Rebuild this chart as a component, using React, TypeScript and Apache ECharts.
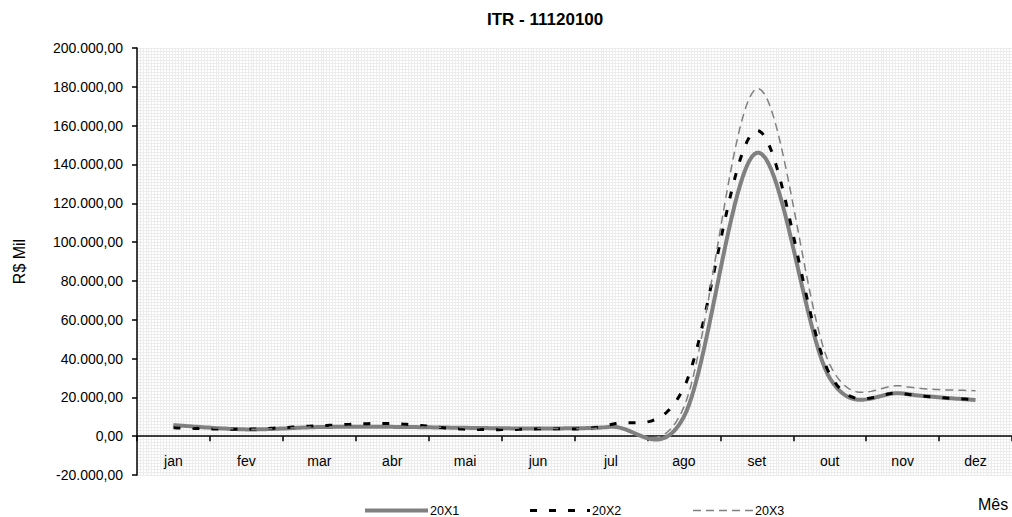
import React, { useEffect, useRef } from 'react';
import * as echarts from 'echarts';

const months = ['jan', 'fev', 'mar', 'abr', 'mai', 'jun', 'jul', 'ago', 'set', 'out', 'nov', 'dez'];
const seriesNames = ['20X1', '20X2', '20X3'];
const values20X1 = [5700, 3500, 4700, 4800, 4300, 4000, 4800, 10000, 146000, 30000, 22000, 18600];
const values20X2 = [4300, 3600, 5400, 6500, 3600, 3800, 6000, 25000, 157500, 32000, 22000, 18800];
const values20X3 = [5600, 3600, 4800, 4900, 4400, 4100, 4800, 15000, 179000, 37000, 25800, 23400];
const yMin = -20000;
const yMax = 200000;
const yStep = 20000;
const titleText = 'ITR - 11120100';
const yAxisName = 'R$ Mil';
const xAxisName = 'Mês';

const FONT = 'Arial, "Liberation Sans", sans-serif';

const GRID_TOP = 48;
const GRID_HEIGHT = 427;

function fmt(v: number): string {
  const neg = v < 0;
  const s = Math.abs(v).toFixed(2);
  const [i, d] = s.split('.');
  const ii = i.replace(/\B(?=(\d{3})+(?!\d))/g, '.');
  return (neg ? '-' : '') + ii + ',' + d;
}

// Excel-like smoothed line (Catmull-Rom style Bezier), mapped through the chart's scales
const makeRenderItem = (vals: number[], style: any) => (params: any, api: any) => {
  if (params.dataIndex !== 0) return null;
  const pts = vals.map((v, i) => api.coord([i, v]));
  const out: number[][] = [pts[0]];
  const n = pts.length;
  for (let i = 0; i < n - 1; i++) {
    const p0 = pts[Math.max(i - 1, 0)];
    const p1 = pts[i];
    const p2 = pts[i + 1];
    const p3 = pts[Math.min(i + 2, n - 1)];
    const c1 = [p1[0] + (p2[0] - p0[0]) / 6, p1[1] + (p2[1] - p0[1]) / 6];
    const c2 = [p2[0] - (p3[0] - p1[0]) / 6, p2[1] - (p3[1] - p1[1]) / 6];
    const steps = 30;
    for (let k = 1; k <= steps; k++) {
      const t = k / steps;
      const u = 1 - t;
      const a = u * u * u, b = 3 * u * u * t, c = 3 * u * t * t, d = t * t * t;
      out.push([
        a * p1[0] + b * c1[0] + c * c2[0] + d * p2[0],
        a * p1[1] + b * c1[1] + c * c2[1] + d * p2[1],
      ]);
    }
  }
  return {
    type: 'polyline',
    shape: { points: out },
    style: { fill: 'none', lineJoin: 'round', ...style },
    silent: true,
  };
};

const seriesStyles = [
  { stroke: '#808080', lineWidth: 4 },
  { stroke: '#000000', lineWidth: 3, lineDash: [7, 12] },
  { stroke: '#808080', lineWidth: 1.5, lineDash: [8, 5] },
];
const seriesValues = [values20X1, values20X2, values20X3];

export default function App() {
  const ref = useRef<HTMLDivElement>(null);
  useEffect(() => {
    if (!ref.current) return;
    const chart = echarts.init(ref.current, undefined, { renderer: 'svg' });
    const zeroOffset = -(GRID_HEIGHT * (0 - yMin)) / (yMax - yMin);
    const legendY = 510.5;
    const legendItems = [
      { x1: 365, x2: 428, tx: 430 },
      { x1: 530, x2: 590, tx: 592 },
      { x1: 693, x2: 753, tx: 755 },
    ];
    const legendGraphics: any[] = [];
    legendItems.forEach((it, i) => {
      legendGraphics.push({
        type: 'line',
        shape: { x1: it.x1, y1: legendY, x2: it.x2, y2: legendY },
        style: { ...seriesStyles[i] },
        silent: true,
      });
      legendGraphics.push({
        type: 'text',
        x: it.tx,
        y: legendY,
        style: {
          text: seriesNames[i],
          fontSize: 12.5,
          fontFamily: FONT,
          fill: '#000',
          verticalAlign: 'middle',
          align: 'left',
        },
        silent: true,
      });
    });
    legendGraphics.push({
      type: 'text',
      x: 978,
      y: 504,
      style: {
        text: xAxisName,
        fontSize: 16,
        fontFamily: FONT,
        fill: '#000',
        verticalAlign: 'middle',
        align: 'left',
      },
      silent: true,
    });

    chart.setOption({
      animation: false,
      backgroundColor: '#ffffff',
      title: {
        text: titleText,
        left: 487,
        top: 11,
        padding: 0,
        textStyle: { fontSize: 17, fontWeight: 'bold', fontFamily: FONT, color: '#000' },
      },
      grid: { left: 137, top: GRID_TOP, width: 877, height: GRID_HEIGHT, containLabel: false },
      xAxis: [
        {
          type: 'category',
          data: months,
          boundaryGap: true,
          position: 'bottom',
          offset: zeroOffset,
          axisLine: { show: true, onZero: false, lineStyle: { color: '#000', width: 1.5 } },
          axisTick: { show: true, interval: 0, length: 5, inside: false, lineStyle: { color: '#000', width: 1.5 } },
          axisLabel: { margin: 18, fontSize: 14, fontFamily: FONT, color: '#000', interval: 0 },
          splitLine: { show: false },
        },
        {
          type: 'value',
          min: 0,
          max: 12,
          interval: 0.04,
          position: 'top',
          axisLine: { show: false, onZero: false },
          axisTick: { show: false },
          axisLabel: { show: false },
          splitLine: { show: true, lineStyle: { color: '#ececec', width: 1 } },
        },
      ],
      yAxis: {
        type: 'value',
        min: yMin,
        max: yMax,
        interval: yStep,
        name: yAxisName,
        nameLocation: 'middle',
        nameGap: 110,
        nameTextStyle: { fontSize: 16, fontFamily: FONT, color: '#000' },
        axisLine: { show: true, onZero: false, lineStyle: { color: '#000', width: 1.5 } },
        axisTick: { show: true, length: 5, lineStyle: { color: '#000', width: 1.5 } },
        axisLabel: { margin: 14, fontSize: 14, fontFamily: FONT, color: '#000', formatter: (v: number) => fmt(v) },
        splitLine: { show: true, lineStyle: { color: '#ececec', width: 1 } },
        minorTick: { show: false, splitNumber: 13 },
        minorSplitLine: { show: true, lineStyle: { color: '#ececec', width: 1 } },
      },
      series: seriesValues.map((vals, i) => ({
        type: 'custom',
        name: seriesNames[i],
        coordinateSystem: 'cartesian2d',
        xAxisIndex: 0,
        yAxisIndex: 0,
        encode: { x: 0, y: 1 },
        data: vals.map((v, j) => [j, v]),
        renderItem: makeRenderItem(vals, seriesStyles[i]),
        z: 10 + i,
      })),
      graphic: legendGraphics,
    });
    return () => chart.dispose();
  }, []);
  return (
    <div
      ref={ref}
      style={{ position: 'absolute', left: 0, top: 0, width: 1012, height: 517 }}
    />
  );
}
